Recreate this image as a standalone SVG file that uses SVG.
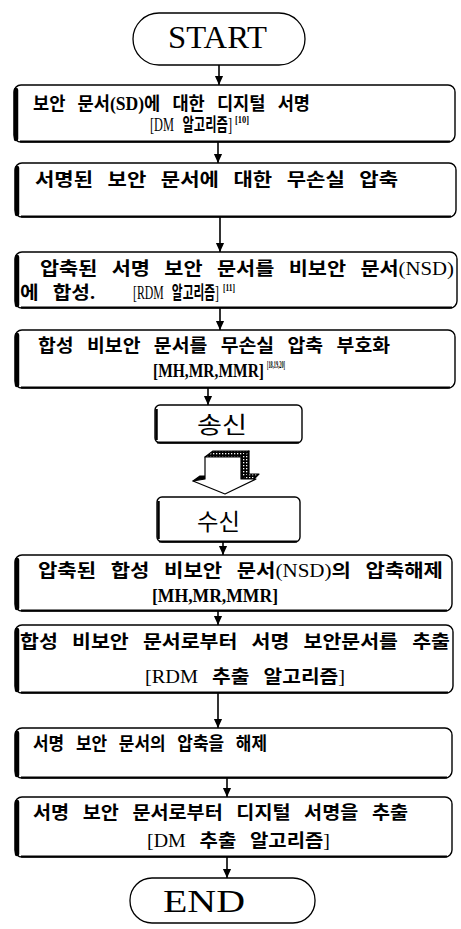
<svg xmlns="http://www.w3.org/2000/svg" width="461" height="929" viewBox="0 0 461 929">
<style>
.bg{fill:#fff}
.pill{fill:#fff;stroke:#000;stroke-width:1.3}
.box{fill:#fff;stroke:#000;stroke-width:1.4}
.thick{fill:none;stroke:#000;stroke-width:4.5;stroke-linecap:round}
.bot{fill:none;stroke:#000;stroke-width:2.2}
.t{font-family:"Liberation Serif","Noto Sans CJK KR",serif;font-size:18px;font-weight:bold;fill:#000;word-spacing:8px}
.lat{font-family:"Liberation Serif","Noto Sans CJK KR",serif;font-weight:bold}
.sup{font-family:"Liberation Serif",serif;font-size:10px;font-weight:bold;fill:#000}
.big{font-family:"Liberation Serif",serif;font-size:31px;fill:#000}
.g{font-family:"Noto Sans CJK KR","Noto Sans",sans-serif;font-size:23px;fill:#000}
.conn{stroke:#000;stroke-width:1.6;fill:none}
</style>
<defs>
<marker id="arr" markerUnits="userSpaceOnUse" markerWidth="10" markerHeight="12" refX="11" refY="5" orient="auto" viewBox="0 0 12 10">
<path d="M0,0 L11,5 L0,10 Z" fill="#000"/>
</marker>
<pattern id="dots" width="3" height="3" patternUnits="userSpaceOnUse">
<rect width="3" height="3" fill="#000"/>
<rect x="0" y="0" width="1.3" height="1.3" fill="#fff"/>
</pattern>
</defs>
<rect class="bg" width="461" height="929"/>

<g id="start">
<rect class="pill" x="133" y="13" width="172" height="52" rx="26"/>
<text class="big" x="168" y="48" textLength="99" lengthAdjust="spacingAndGlyphs">START</text>
</g>

<g id="box1">
<rect class="box" x="14" y="85" width="441" height="57" rx="7"/>
<path class="thick" d="M16,90 L16,139"/>
<path class="bot" d="M20,141.5 L450,141.5"/>
<text class="t" x="33" y="110" textLength="277" lengthAdjust="spacingAndGlyphs">보안 문서<tspan class="lat" font-weight="normal">(SD)</tspan>에 대한 디지털 서명</text>
<text class="t" x="150" y="131" textLength="82" lengthAdjust="spacingAndGlyphs"><tspan font-weight="normal">[DM</tspan> 알고리즘<tspan font-weight="normal">]</tspan></text>
<text class="sup" x="235" y="123" textLength="14" lengthAdjust="spacingAndGlyphs">[10]</text>
</g>

<g id="box2">
<rect class="box" x="15" y="163" width="441" height="54" rx="7"/>
<path class="thick" d="M17,168 L17,214"/>
<path class="bot" d="M21,216.5 L451,216.5"/>
<text class="t" x="35" y="186" textLength="363" lengthAdjust="spacingAndGlyphs">서명된 보안 문서에 대한 무손실 압축</text>
</g>

<g id="box3">
<rect class="box" x="15" y="252" width="442" height="56" rx="7"/>
<path class="thick" d="M17,257 L17,305"/>
<path class="bot" d="M21,307.5 L452,307.5"/>
<text class="t" x="40" y="275" textLength="414" lengthAdjust="spacingAndGlyphs">압축된 서명 보안 문서를 비보안 문서<tspan font-weight="normal">(NSD)</tspan></text>
<text class="t" x="20" y="299" textLength="75" lengthAdjust="spacingAndGlyphs">에 합성.</text>
<text class="t" x="133" y="299" textLength="86" lengthAdjust="spacingAndGlyphs"><tspan font-weight="normal">[RDM</tspan> 알고리즘<tspan font-weight="normal">]</tspan></text>
<text class="sup" x="223" y="291" textLength="12" lengthAdjust="spacingAndGlyphs">[11]</text>
</g>

<g id="box4">
<rect class="box" x="15" y="330" width="440" height="58" rx="7"/>
<path class="thick" d="M17,335 L17,385"/>
<path class="bot" d="M21,387.5 L450,387.5"/>
<text class="t" x="38" y="352" textLength="352" lengthAdjust="spacingAndGlyphs">합성 비보안 문서를 무손실 압축 부호화</text>
<text class="t" x="153" y="377" textLength="111" lengthAdjust="spacingAndGlyphs" font-weight="normal">[MH,MR,MMR]</text>
<text class="sup" x="267" y="368" textLength="18" lengthAdjust="spacingAndGlyphs">[18,19,20]</text>
</g>

<g id="send">
<rect class="box" x="155" y="405" width="147" height="38" rx="5"/>
<path class="bot" d="M157,442.5 L299,442.5"/>
<path fill="none" stroke="#000" stroke-width="2.5" d="M156.5,409 L156.5,440"/>
<text class="g" x="197" y="433" textLength="50" lengthAdjust="spacingAndGlyphs">송신</text>
</g>

<g id="recv">
<rect class="box" x="157" y="497" width="143" height="45" rx="5"/>
<path class="bot" d="M159,541.5 L297,541.5"/>
<path fill="none" stroke="#000" stroke-width="2.5" d="M158.5,501 L158.5,539"/>
<text class="g" x="197" y="530" textLength="43" lengthAdjust="spacingAndGlyphs">수신</text>
</g>

<g id="box5">
<rect class="box" x="15" y="555" width="437" height="56" rx="7"/>
<path class="thick" d="M17,560 L17,608"/>
<path class="bot" d="M21,610.5 L447,610.5"/>
<text class="t" x="38" y="577" textLength="405" lengthAdjust="spacingAndGlyphs">압축된 합성 비보안 문서<tspan font-weight="normal">(NSD)</tspan>의 압축해제</text>
<text class="t" x="152" y="602" textLength="126" lengthAdjust="spacingAndGlyphs" font-weight="normal">[MH,MR,MMR]</text>
</g>

<g id="box6">
<rect class="box" x="15" y="625" width="438" height="68" rx="7"/>
<path class="thick" d="M17,630 L17,690"/>
<path class="bot" d="M21,692.5 L448,692.5"/>
<text class="t" x="20" y="648" textLength="430" lengthAdjust="spacingAndGlyphs">합성 비보안 문서로부터 서명 보안문서를 추출</text>
<text class="t" x="145" y="683" textLength="200" lengthAdjust="spacingAndGlyphs"><tspan font-weight="normal">[RDM</tspan> 추출 알고리즘<tspan font-weight="normal">]</tspan></text>
</g>

<g id="box7">
<rect class="box" x="15" y="728" width="437" height="50" rx="7"/>
<path class="thick" d="M17,733 L17,775"/>
<path class="bot" d="M21,777.5 L447,777.5"/>
<text class="t" x="33" y="750" textLength="234" lengthAdjust="spacingAndGlyphs">서명 보안 문서의 압축을 해제</text>
</g>

<g id="box8">
<rect class="box" x="15" y="797" width="437" height="60" rx="7"/>
<path class="thick" d="M17,802 L17,854"/>
<path class="bot" d="M21,856.5 L447,856.5"/>
<text class="t" x="33" y="819" textLength="375" lengthAdjust="spacingAndGlyphs">서명 보안 문서로부터 디지털 서명을 추출</text>
<text class="t" x="147" y="847" textLength="183" lengthAdjust="spacingAndGlyphs"><tspan font-weight="normal">[DM</tspan> 추출 알고리즘<tspan font-weight="normal">]</tspan></text>
</g>

<g id="end">
<rect class="pill" x="130" y="878" width="185" height="45" rx="22"/>
<text class="big" x="163" y="912" textLength="82" lengthAdjust="spacingAndGlyphs">END</text>
</g>

<g id="connectors">
<line class="conn" x1="219" y1="65" x2="219" y2="85" marker-end="url(#arr)"/>
<line class="conn" x1="218" y1="142" x2="218" y2="163" marker-end="url(#arr)"/>
<line class="conn" x1="220" y1="217" x2="220" y2="252" marker-end="url(#arr)"/>
<line class="conn" x1="220" y1="308" x2="220" y2="330" marker-end="url(#arr)"/>
<line class="conn" x1="208" y1="388" x2="208" y2="405" marker-end="url(#arr)"/>
<line class="conn" x1="223" y1="542" x2="223" y2="555" marker-end="url(#arr)"/>
<line class="conn" x1="218" y1="611" x2="218" y2="625" marker-end="url(#arr)"/>
<line class="conn" x1="218" y1="693" x2="218" y2="728" marker-end="url(#arr)"/>
<line class="conn" x1="227" y1="778" x2="227" y2="797" marker-end="url(#arr)"/>
<line class="conn" x1="227" y1="857" x2="227" y2="878" marker-end="url(#arr)"/>
<g id="bigarrow" stroke="#000" stroke-width="1.2" stroke-linejoin="round">
<polygon points="205,457 213,451 249,451 241,457" fill="url(#dots)"/>
<polygon points="241,457 249,451 249,474 241,479" fill="url(#dots)"/>
<polygon points="241,479 249,474 259,474 254,479" fill="url(#dots)"/>
<polygon points="193,481 200,476 205,476 205,479" fill="#000"/>
<polygon points="205,457 241,457 241,479 256,479 225,494 193,481 205,479" fill="#fff"/>
</g>
</g>
</svg>
